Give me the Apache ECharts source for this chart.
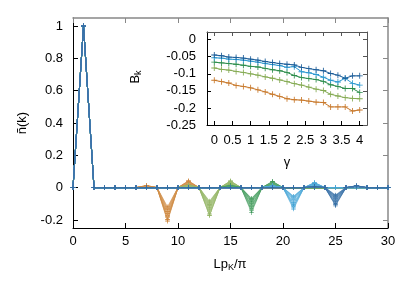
<!DOCTYPE html>
<html><head><meta charset="utf-8">
<script src="https://cdn.jsdelivr.net/npm/echarts@6/dist/echarts.min.js"></script>
<style>html,body{margin:0;padding:0;background:#fff}#c{width:415px;height:291px}</style>
</head><body><div id="c"></div>
<script>
// ---- data ----
const kValues = [0,1,2,3,4,5,6,7,8,9,10,11,12,13,14,15,16,17,18,19,20,21,22,23,24,25,26,27,28,29,30];
const gammas = [0,0.2,0.4,0.6,0.8,1,1.2,1.4,1.6,1.8,2,2.2,2.4,2.6,2.8,3,3.2,3.4,3.6,3.8,4];
const peakK = 1;
const peakValue = 1;
const dipK = [9, 13, 17, 21, 25];
// B_k per gamma (inset), one array per family
const bOrange     = [-0.119,-0.123,-0.127,-0.134,-0.137,-0.141,-0.147,-0.153,-0.160,-0.166,-0.173,-0.176,-0.177,-0.180,-0.183,-0.184,-0.197,-0.197,-0.197,-0.209,-0.206];
const bLightGreen = [-0.083,-0.087,-0.089,-0.093,-0.096,-0.100,-0.104,-0.109,-0.113,-0.118,-0.123,-0.129,-0.133,-0.139,-0.145,-0.149,-0.160,-0.165,-0.170,-0.172,-0.173];
const bGreen      = [-0.066,-0.068,-0.070,-0.072,-0.075,-0.078,-0.080,-0.084,-0.088,-0.091,-0.096,-0.105,-0.111,-0.114,-0.117,-0.122,-0.132,-0.137,-0.143,-0.143,-0.155];
const bLightBlue  = [-0.053,-0.054,-0.057,-0.058,-0.060,-0.063,-0.066,-0.070,-0.073,-0.076,-0.081,-0.079,-0.094,-0.097,-0.102,-0.110,-0.119,-0.124,-0.113,-0.128,-0.133];
const bDarkBlue   = [-0.045,-0.047,-0.051,-0.052,-0.054,-0.057,-0.060,-0.064,-0.067,-0.070,-0.072,-0.074,-0.081,-0.085,-0.088,-0.091,-0.099,-0.104,-0.113,-0.106,-0.106];
// positive side bumps of n(k), two after and two before the dip
const afterOrange     = [0.018,0.019,0.020,0.021,0.022,0.023,0.024,0.025,0.027,0.028,0.030,0.031,0.032,0.033,0.034,0.036,0.038,0.039,0.040,0.043,0.042];
const afterLightGreen = [0.016,0.017,0.018,0.019,0.020,0.021,0.022,0.024,0.025,0.027,0.029,0.030,0.031,0.033,0.034,0.035,0.038,0.039,0.040,0.041,0.042];
const afterGreen      = [0.012,0.013,0.014,0.015,0.016,0.017,0.018,0.019,0.021,0.022,0.024,0.026,0.028,0.029,0.030,0.032,0.034,0.035,0.037,0.037,0.039];
const afterLightBlue  = [0.010,0.010,0.011,0.012,0.013,0.014,0.015,0.016,0.017,0.018,0.020,0.019,0.023,0.024,0.025,0.027,0.029,0.030,0.028,0.031,0.032];
const afterDarkBlue   = [0.004,0.004,0.005,0.005,0.005,0.006,0.006,0.007,0.007,0.008,0.008,0.008,0.009,0.009,0.010,0.010,0.011,0.011,0.012,0.011,0.011];
const beforeOrange     = [0.004,0.004,0.005,0.005,0.005,0.006,0.006,0.007,0.007,0.008,0.008,0.009,0.009,0.010,0.010,0.011,0.012,0.012,0.012,0.013,0.013];
const beforeLightGreen = [0.006,0.006,0.007,0.007,0.008,0.008,0.009,0.009,0.010,0.011,0.011,0.012,0.012,0.013,0.013,0.014,0.015,0.015,0.016,0.016,0.016];
const beforeGreen      = [0.005,0.005,0.006,0.006,0.007,0.007,0.008,0.008,0.009,0.009,0.010,0.011,0.011,0.012,0.012,0.013,0.014,0.014,0.015,0.015,0.015];
const beforeLightBlue  = [0.004,0.004,0.005,0.005,0.005,0.006,0.006,0.006,0.007,0.007,0.008,0.008,0.009,0.009,0.010,0.010,0.011,0.011,0.010,0.012,0.012];
const beforeDarkBlue   = [0.003,0.003,0.003,0.004,0.004,0.004,0.004,0.005,0.005,0.005,0.005,0.006,0.006,0.006,0.006,0.007,0.007,0.007,0.008,0.008,0.008];
const mainYTicks = [-0.2, 0, 0.2, 0.4, 0.6, 0.8, 1];
const mainXTicks = [0, 5, 10, 15, 20, 25, 30];
const insetXTicks = [0, 0.5, 1, 1.5, 2, 2.5, 3, 3.5, 4];
const insetYTicks = [0, -0.05, -0.1, -0.15, -0.2, -0.25];

// ---- styling ----
const colors = ['#c8782a', '#84aa52', '#2a8c4a', '#2b98d0', '#1b5c98'];
const lightColors = ['#e0b07a', '#b4cc8e', '#7fbf8f', '#8cc6e6', '#6f98c2'];
const bSets = [bOrange, bLightGreen, bGreen, bLightBlue, bDarkBlue];
const afterSets = [afterOrange, afterLightGreen, afterGreen, afterLightBlue, afterDarkBlue];
const beforeSets = [beforeOrange, beforeLightGreen, beforeGreen, beforeLightBlue, beforeDarkBlue];
const plus = 'path://M-1,-0.14H1V0.14H-1Z M-0.14,-1H0.14V1H-0.14Z';
const FONT = 'Liberation Sans, Arial, sans-serif';
const FS = 13;

const series = [];
for (let f = 0; f < 5; f++) {
  for (let g = 0; g < gammas.length; g++) {
    const d = dipK[f];
    const data = kValues.map(k => {
      let v = 0;
      if (k === peakK) v = peakValue;
      else if (k === d) v = bSets[f][g];
      else if (k === d + 2) v = afterSets[f][g];
      else if (k === d - 2) v = beforeSets[f][g];
      return [k, v];
    });
    const c = g % 2 ? lightColors[f] : colors[f];
    series.push({
      type: 'line', xAxisIndex: 0, yAxisIndex: 0, data,
      symbol: plus, symbolSize: 4.5, showSymbol: true,
      lineStyle: { color: c, width: 0.6, opacity: 0.75 },
      itemStyle: { color: c, opacity: 0.8 },
      silent: true, animation: false, z: 2
    });
  }
}
for (let f = 0; f < 5; f++) {
  series.push({
    type: 'line', xAxisIndex: 2, yAxisIndex: 2,
    data: gammas.map((x, i) => [x, bSets[f][i]]),
    symbol: plus, symbolSize: 6,
    lineStyle: { color: colors[f], width: 1 },
    itemStyle: { color: colors[f] },
    silent: true, animation: false, z: 5
  });
}

const lbl = { color: '#000', fontFamily: FONT, fontSize: FS };
function axisCommon(extra) {
  return Object.assign({
    type: 'value', splitLine: { show: false },
    axisLine: { show: true, onZero: false, lineStyle: { color: '#000', width: 1 } },
    axisTick: { show: true, inside: true, length: 5, lineStyle: { color: '#000' } },
  }, extra);
}

const option = {
  backgroundColor: '#fff',
  animation: false,
  grid: [
    { left: 73, top: 18, width: 315, height: 210 },
    { left: 207, top: 32, width: 160, height: 93 }
  ],
  xAxis: [
    axisCommon({ gridIndex: 0, min: 0, max: 30, position: 'bottom',
      axisLabel: Object.assign({ margin: 7, customValues: mainXTicks }, lbl),
      axisTick: { show: true, inside: true, length: 5, customValues: mainXTicks, lineStyle: { color: '#000' } } }),
    axisCommon({ gridIndex: 0, min: 0, max: 30, position: 'top',
      axisLine: { show: true, onZero: false, lineStyle: { color: '#888', width: 1.5 } },
      axisLabel: { show: false },
      axisTick: { show: true, inside: true, length: 5, customValues: mainXTicks, lineStyle: { color: '#888' } } }),
    axisCommon({ gridIndex: 1, min: -0.2, max: 4.2, position: 'bottom',
      axisLabel: Object.assign({ margin: 9, customValues: insetXTicks }, lbl),
      axisTick: { show: true, inside: true, length: 4, customValues: insetXTicks, lineStyle: { color: '#000' } } }),
    axisCommon({ gridIndex: 1, min: -0.2, max: 4.2, position: 'top',
      axisLine: { show: true, onZero: false, lineStyle: { color: '#555', width: 1 } },
      axisLabel: { show: false },
      axisTick: { show: true, inside: true, length: 4, customValues: insetXTicks, lineStyle: { color: '#555' } } })
  ],
  yAxis: [
    axisCommon({ gridIndex: 0, min: -0.25, max: 1.05, position: 'left',
      axisLabel: Object.assign({ margin: 10, customValues: mainYTicks }, lbl),
      axisTick: { show: true, inside: true, length: 5, customValues: mainYTicks, lineStyle: { color: '#000' } } }),
    axisCommon({ gridIndex: 0, min: -0.25, max: 1.05, position: 'right',
      axisLine: { show: true, onZero: false, lineStyle: { color: '#888', width: 1.5 } },
      axisLabel: { show: false },
      axisTick: { show: true, inside: true, length: 5, customValues: mainYTicks, lineStyle: { color: '#888' } } }),
    axisCommon({ gridIndex: 1, min: -0.25, max: 0.0225, position: 'left',
      axisLabel: Object.assign({ margin: 11, customValues: insetYTicks }, lbl),
      axisTick: { show: true, inside: true, length: 4, customValues: insetYTicks, lineStyle: { color: '#000' } } }),
    axisCommon({ gridIndex: 1, min: -0.25, max: 0.0225, position: 'right',
      axisLine: { show: true, onZero: false, lineStyle: { color: '#555', width: 1 } },
      axisLabel: { show: false },
      axisTick: { show: true, inside: true, length: 4, customValues: insetYTicks, lineStyle: { color: '#555' } } })
  ],
  graphic: [
    { type: 'text', x: 22, y: 123, rotation: Math.PI / 2,
      style: { text: 'ñ(k)', fill: '#000', font: FS + 'px ' + FONT, align: 'center', verticalAlign: 'middle' } },
    { type: 'text', x: 230, y: 264,
      style: { text: '{a|Lp}{b|K}{a|/π}', align: 'center', verticalAlign: 'middle',
        rich: { a: { fontSize: FS, fontFamily: FONT, fill: '#000', color: '#000' },
                b: { fontSize: 9, fontFamily: FONT, fill: '#000', color: '#000', padding: [8, 0, 0, 0] } } } },
    { type: 'text', x: 135, y: 77, rotation: Math.PI / 2,
      style: { text: '{a|B}{b|k}', align: 'center', verticalAlign: 'middle',
        rich: { a: { fontSize: FS, fontFamily: FONT, fill: '#000', color: '#000' },
                b: { fontSize: 9, fontFamily: FONT, fill: '#000', color: '#000', padding: [8, 0, 0, 0] } } } },
    { type: 'text', x: 287, y: 162,
      style: { text: 'γ', fill: '#000', font: FS + 'px ' + FONT, align: 'center', verticalAlign: 'middle' } }
  ],
  series
};
const chart = echarts.init(document.getElementById('c'), null, { renderer: 'canvas' });
chart.setOption(option);
</script>
</body></html>
